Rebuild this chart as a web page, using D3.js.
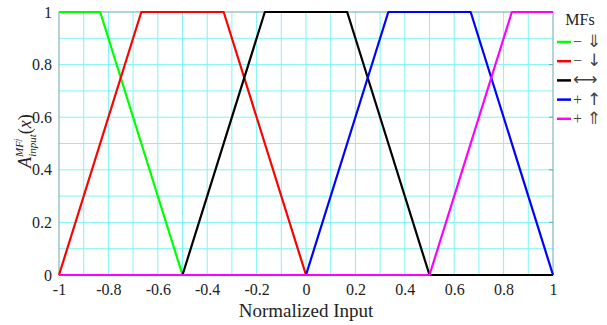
<!DOCTYPE html>
<html>
<head>
<meta charset="utf-8">
<script src="https://cdn.jsdelivr.net/npm/d3@7"></script>
<style>
  body { margin: 0; background: #fff; }
  svg text { font-family: "Liberation Serif", "DejaVu Serif", serif; }
</style>
</head>
<body>
<div id="chart"></div>
<script>
// membership functions over the normalized input, one trapezoid each
var xTicks = [-1, -0.8, -0.6, -0.4, -0.2, 0, 0.2, 0.4, 0.6, 0.8, 1];
var yTicks = [0, 0.2, 0.4, 0.6, 0.8, 1];
var mfSigns = ["\u2212", "\u2212", "", "+", "+"];
var mfArrows = ["\u21D3", "\u2193", "\u27F7", "\u2191", "\u21D1"];
var mfColors = ["#00ff00", "#ff0000", "#000000", "#0000ff", "#ff00ff"];
var mfX = [
  [-1, -0.8333, -0.5, 1],
  [-1, -0.6667, -0.3333, 0, 1],
  [-1, -0.5, -0.1667, 0.1667, 0.5, 1],
  [-1, 0, 0.3333, 0.6667, 1],
  [-1, 0.5, 0.8333, 1]
];
var mfY = [
  [1, 1, 0, 0],
  [0, 1, 1, 0, 0],
  [0, 0, 1, 1, 0, 0],
  [0, 0, 1, 1, 0],
  [0, 0, 1, 1]
];

function mf_chart(div_id) {
    "use strict";

    var width = 607, height = 325,
        margin = {top: 12, right: 54, bottom: 50, left: 59};

    var svg = d3.select(div_id).append("svg")
        .attr("width", width)
        .attr("height", height);

    var x = d3.scaleLinear().domain([-1, 1]).range([margin.left, width - margin.right]);
    var y = d3.scaleLinear().domain([0, 1]).range([height - margin.bottom, margin.top]);

    // grid every 0.1
    var grid = svg.append("g").attr("stroke", "#7ff5f5").attr("stroke-width", 1);
    d3.range(1, 20).forEach(function(i) {
        var v = -1 + i * 0.1;
        grid.append("line")
            .attr("x1", x(v)).attr("x2", x(v))
            .attr("y1", y(0)).attr("y2", y(1));
    });
    d3.range(1, 10).forEach(function(i) {
        var v = i * 0.1;
        grid.append("line")
            .attr("x1", x(-1)).attr("x2", x(1))
            .attr("y1", y(v)).attr("y2", y(v));
    });

    // box
    svg.append("rect")
        .attr("x", x(-1)).attr("y", y(1))
        .attr("width", x(1) - x(-1)).attr("height", y(0) - y(1))
        .attr("fill", "none").attr("stroke", "#6aa8a8").attr("stroke-width", 1);

    var xAxis = svg.append("g")
        .attr("transform", "translate(0," + y(0) + ")")
        .call(d3.axisBottom(x).tickValues(xTicks).tickSize(0).tickPadding(9)
              .tickFormat(function(d) { return String(Math.round(d * 10) / 10); }));
    var yAxis = svg.append("g")
        .attr("transform", "translate(" + x(-1) + ",0)")
        .call(d3.axisLeft(y).tickValues(yTicks).tickSize(0).tickPadding(7)
              .tickFormat(function(d) { return String(Math.round(d * 10) / 10); }));
    [xAxis, yAxis].forEach(function(a) {
        a.select(".domain").remove();
        a.selectAll("text").attr("font-size", 16).attr("fill", "#222")
            .style("font-family", '"Liberation Serif", serif');
    });
    // little ticks on right side
    yTicks.forEach(function(v) {
        svg.append("line").attr("x1", x(1) - 4).attr("x2", x(1))
            .attr("y1", y(v)).attr("y2", y(v)).attr("stroke", "#6aa8a8");
    });

    var line = d3.line()
        .x(function(d) { return x(d[0]); })
        .y(function(d) { return y(d[1]); });

    mfX.forEach(function(xs, k) {
        var pts = xs.map(function(v, i) { return [v, mfY[k][i]]; });
        svg.append("path")
            .attr("d", line(pts))
            .attr("fill", "none")
            .attr("stroke", mfColors[k])
            .attr("stroke-width", 2.2)
            .attr("stroke-linejoin", "round");
    });

    // labels
    svg.append("text")
        .attr("x", (x(-1) + x(1)) / 2).attr("y", 317)
        .attr("text-anchor", "middle")
        .attr("font-size", 19).attr("fill", "#222")
        .text("Normalized Input");

    var yl = svg.append("text")
        .attr("transform", "translate(31,141) rotate(-90)")
        .attr("text-anchor", "middle")
        .attr("font-size", 18).attr("fill", "#222")
        .attr("font-style", "italic");
    yl.append("tspan").text("A");
    yl.append("tspan").attr("font-size", 11).attr("dy", -8).text("MF");
    yl.append("tspan").attr("font-size", 8).attr("dy", -3).text("j");
    yl.append("tspan").attr("font-size", 11).attr("dx", -18).attr("dy", 16).text("input");
    yl.append("tspan").attr("font-style", "normal").attr("dy", -5).text("(");
    yl.append("tspan").text("x");
    yl.append("tspan").attr("font-style", "normal").text(")");

    // legend
    var lg = svg.append("g");
    lg.append("text").attr("x", 580).attr("y", 25)
        .attr("text-anchor", "middle").attr("font-size", 16).attr("fill", "#222")
        .text("MFs");
    mfArrows.forEach(function(arrow, k) {
        var yy = 42 + k * 19.2;
        lg.append("line").attr("x1", 557).attr("x2", 571)
            .attr("y1", yy).attr("y2", yy)
            .attr("stroke", mfColors[k]).attr("stroke-width", 2.5);
        var t = lg.append("text").attr("x", 573).attr("y", yy + 5)
            .attr("font-size", 16).attr("fill", "#444");
        if (mfSigns[k]) {
            t.append("tspan").text(mfSigns[k]);
            t.append("tspan").attr("dx", 5).attr("font-family", "DejaVu Sans")
                .attr("font-size", 17).text(arrow);
        } else {
            t.append("tspan").attr("font-family", "DejaVu Sans")
                .attr("font-size", 17).text(arrow);
        }
    });
}

mf_chart("#chart");
</script>
</body>
</html>
